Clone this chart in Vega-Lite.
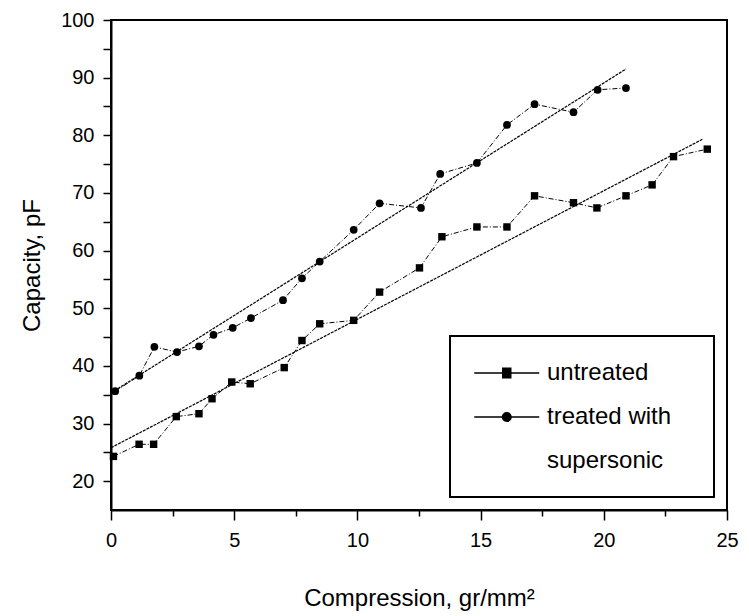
{
  "$schema": "https://vega.github.io/schema/vega-lite/v6.json",
  "width": 616,
  "height": 490,
  "autosize": "none",
  "padding": {"left": 111, "top": 20, "right": 22, "bottom": 106},
  "background": "white",
  "config": {
    "font": "Liberation Sans",
    "view": {"stroke": "black", "strokeWidth": 2},
    "axis": {"domainColor": "black", "domainWidth": 2, "tickColor": "black", "tickWidth": 1.5, "labelColor": "black", "titleColor": "black", "titleFontWeight": "normal", "grid": false, "labelFont": "Liberation Sans", "titleFont": "Liberation Sans"}
  },
  "datasets": {
    "pts": [
      {"series": "untreated", "x": 0.1, "y": 24.3},
      {"series": "untreated", "x": 1.14, "y": 26.4},
      {"series": "untreated", "x": 1.73, "y": 26.4},
      {"series": "untreated", "x": 2.65, "y": 31.2},
      {"series": "untreated", "x": 3.57, "y": 31.7},
      {"series": "untreated", "x": 4.1, "y": 34.3},
      {"series": "untreated", "x": 4.9, "y": 37.2},
      {"series": "untreated", "x": 5.65, "y": 36.9},
      {"series": "untreated", "x": 7.03, "y": 39.7},
      {"series": "untreated", "x": 7.75, "y": 44.4},
      {"series": "untreated", "x": 8.47, "y": 47.3},
      {"series": "untreated", "x": 9.85, "y": 47.9},
      {"series": "untreated", "x": 10.9, "y": 52.8},
      {"series": "untreated", "x": 12.52, "y": 57.0},
      {"series": "untreated", "x": 13.43, "y": 62.4},
      {"series": "untreated", "x": 14.85, "y": 64.1},
      {"series": "untreated", "x": 16.07, "y": 64.1},
      {"series": "untreated", "x": 17.19, "y": 69.5},
      {"series": "untreated", "x": 18.77, "y": 68.3},
      {"series": "untreated", "x": 19.72, "y": 67.4},
      {"series": "untreated", "x": 20.9, "y": 69.5},
      {"series": "untreated", "x": 21.96, "y": 71.4},
      {"series": "untreated", "x": 22.83, "y": 76.3},
      {"series": "untreated", "x": 24.2, "y": 77.6},
      {"series": "treated", "x": 0.17, "y": 35.6},
      {"series": "treated", "x": 1.15, "y": 38.3},
      {"series": "treated", "x": 1.76, "y": 43.3},
      {"series": "treated", "x": 2.68, "y": 42.4},
      {"series": "treated", "x": 3.57, "y": 43.4},
      {"series": "treated", "x": 4.16, "y": 45.4},
      {"series": "treated", "x": 4.94, "y": 46.6},
      {"series": "treated", "x": 5.68, "y": 48.3},
      {"series": "treated", "x": 6.98, "y": 51.4},
      {"series": "treated", "x": 7.75, "y": 55.2},
      {"series": "treated", "x": 8.47, "y": 58.1},
      {"series": "treated", "x": 9.85, "y": 63.6},
      {"series": "treated", "x": 10.9, "y": 68.2},
      {"series": "treated", "x": 12.58, "y": 67.4},
      {"series": "treated", "x": 13.36, "y": 73.3},
      {"series": "treated", "x": 14.85, "y": 75.2},
      {"series": "treated", "x": 16.07, "y": 81.8},
      {"series": "treated", "x": 17.19, "y": 85.4},
      {"series": "treated", "x": 18.77, "y": 84.0},
      {"series": "treated", "x": 19.75, "y": 87.9},
      {"series": "treated", "x": 20.9, "y": 88.2}
    ],
    "fit": [
      {"series": "untreated", "x": 0, "y": 25.8},
      {"series": "untreated", "x": 24.0, "y": 79.3},
      {"series": "treated", "x": 0, "y": 35.3},
      {"series": "treated", "x": 20.9, "y": 91.5}
    ]
  },
  "encoding": {
    "x": {
      "field": "x", "type": "quantitative",
      "scale": {"domain": [0, 25], "nice": false, "zero": false},
      "axis": {
        "title": "Compression, gr/mm²",
        "values": [0, 2.5, 5, 7.5, 10, 12.5, 15, 17.5, 20, 22.5, 25],
        "labelExpr": "datum.value % 5 == 0 ? datum.label : ''",
        "tickSize": {"condition": {"test": "datum.value % 5 == 0", "value": 10}, "value": 6},
        "labelFontSize": 20, "labelPadding": 10,
        "titleFontSize": 24, "titlePadding": 36, "labelFlush": false
      }
    },
    "y": {
      "field": "y", "type": "quantitative",
      "scale": {"domain": [15, 100], "nice": false, "zero": false},
      "axis": {
        "title": "Capacity, pF",
        "values": [20, 25, 30, 35, 40, 45, 50, 55, 60, 65, 70, 75, 80, 85, 90, 95, 100],
        "labelExpr": "datum.value % 10 == 0 ? datum.label : ''",
        "tickSize": 8,
        "labelFontSize": 20, "labelPadding": 9,
        "titleFontSize": 24, "titlePadding": 16, "labelFlush": false
      }
    }
  },
  "layer": [
    {
      "data": {"name": "fit"},
      "mark": {"type": "line", "color": "black", "strokeWidth": 1.2, "strokeDash": [3, 1]},
      "encoding": {"detail": {"field": "series"}}
    },
    {
      "data": {"name": "pts"},
      "mark": {"type": "line", "color": "black", "strokeWidth": 1, "strokeDash": [5, 2, 1, 2]},
      "encoding": {"detail": {"field": "series"}}
    },
    {
      "data": {"name": "pts"},
      "transform": [{"filter": "datum.series == 'untreated'"}],
      "mark": {"type": "point", "shape": "square", "filled": true, "color": "black", "opacity": 1, "size": 55}
    },
    {
      "data": {"name": "pts"},
      "transform": [{"filter": "datum.series == 'treated'"}],
      "mark": {"type": "point", "shape": "circle", "filled": true, "color": "black", "opacity": 1, "size": 60}
    },
    {
      "data": {"values": []},
      "mark": {"type": "point", "filled": true, "color": "black", "stroke": "black", "strokeWidth": 1.5, "opacity": 1},
      "encoding": {
        "shape": {
          "field": "series", "type": "nominal",
          "scale": {
            "domain": ["untreated", "treated", "supersonic"],
            "range": ["M-1.0625,0H4.354M1.313,-0.4H1.979V0.4H1.313Z", "M-1.0625,0H4.354M2.006,0A0.36,0.36 0 1,1 1.286,0A0.36,0.36 0 1,1 2.006,0Z", "M16.6,0L16.6,0"]
          },
          "legend": {
            "title": null,
            "orient": "none",
            "legendX": 339,
            "legendY": 316,
            "padding": 24,
            "strokeColor": "black",
            "fillColor": "white",
            "labelFontSize": 24,
            "labelColor": "black",
            "labelFont": "Liberation Sans",
            "labelOffset": 47,
            "rowPadding": 19,
            "symbolSize": 576,
            "symbolFillColor": "black",
            "symbolStrokeColor": "black",
            "symbolStrokeWidth": 1.5,
            "labelExpr": "datum.value == 'treated' ? 'treated with' : datum.label",
            "encoding": {
              "legend": {"strokeWidth": {"value": 2}},
              "symbols": {
                "stroke": {"value": "black"},
                "strokeWidth": {"value": 1.5},
                "fill": {"value": "black"}
              }
            }
          }
        }
      }
    }
  ]
}
